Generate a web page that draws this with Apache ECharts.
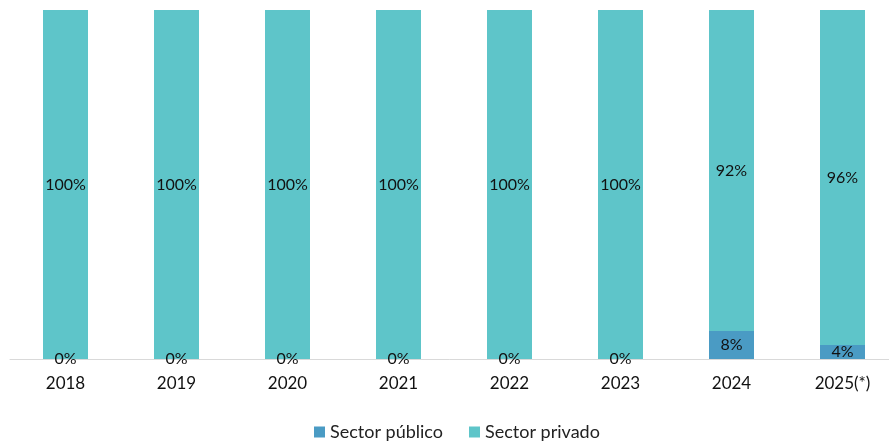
<!DOCTYPE html>
<html><head><meta charset="utf-8">
<script src="https://cdn.jsdelivr.net/npm/echarts@6/dist/echarts.min.js"></script>
<style>html,body{margin:0;padding:0;background:#fff}#c{width:889px;height:441px}</style>
</head><body><div id="c"></div>
<script>
const categories = ['2018','2019','2020','2021','2022','2023','2024','2025(*)'];
const publico = [0,0,0,0,0,0,8,4];
const privado = [100,100,100,100,100,100,92,96];
const seriesNames = ['Sector público','Sector privado'];

const chart = echarts.init(document.getElementById('c'));
const font = 'Lato, "Open Sans", sans-serif';
const lbl = {show:true, position:'inside', formatter:p=>p.value+'%', color:'#111', fontSize:16, fontFamily:font};
chart.setOption({
  animation:false,
  textStyle:{fontFamily:font},
  grid:{left:10, right:-9, top:10, bottom:82, outerBoundsMode:'none', containLabel:false},
  legend:{top:418, left:309, itemWidth:11, itemHeight:11, itemGap:26, icon:'rect',
    textStyle:{fontSize:18, color:'#222', fontFamily:font}, data:seriesNames},
  xAxis:{type:'category', data:categories,
    axisLine:{lineStyle:{color:'#d9d9d9', width:1}}, axisTick:{show:false},
    axisLabel:{fontSize:17, color:'#111', margin:16, fontFamily:font}},
  yAxis:{type:'value', min:0, max:100, show:false, splitLine:{show:false}},
  series:[
    {name:seriesNames[0], type:'bar', stack:'a', barWidth:45, data:publico,
     itemStyle:{color:'#4a9bc4'}, label:lbl},
    {name:seriesNames[1], type:'bar', stack:'a', barWidth:45, data:privado,
     itemStyle:{color:'#5ec5c9'}, label:lbl}
  ]
});
</script></body></html>
